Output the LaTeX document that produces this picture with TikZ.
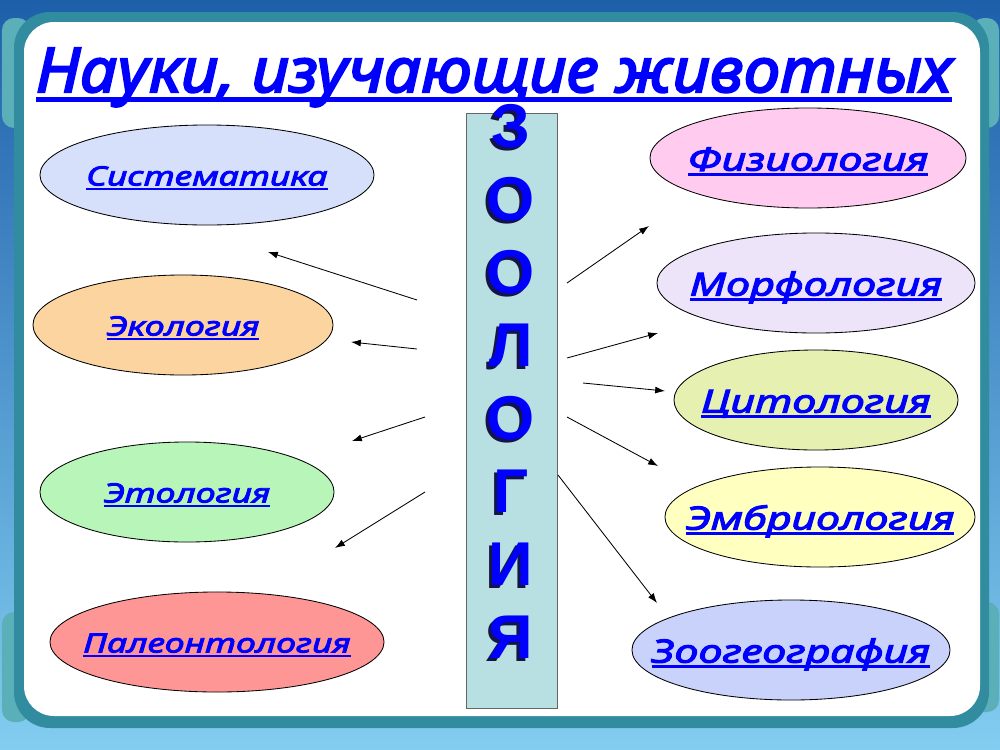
\documentclass[tikz,border=0pt]{standalone}
\usepackage{fontspec}
\setmainfont{Liberation Sans}
\newfontfamily\titlefont[FakeStretch=1.06,FakeBold=3.5]{Noto Sans}
\newfontfamily\lblfont[FakeStretch=1.35,FakeBold=3.5]{Noto Sans}
\usetikzlibrary{shapes.geometric,arrows.meta}

\definecolor{linkblue}{RGB}{0,0,255}
\definecolor{shadowink}{RGB}{20,20,70}
\definecolor{bgtop}{RGB}{30,95,170}
\definecolor{bgbot}{RGB}{130,205,240}
\definecolor{frameteal}{RGB}{50,140,160}
\definecolor{pillteal}{RGB}{90,175,185}
\definecolor{columnfill}{RGB}{184,224,226}
\definecolor{sistfill}{RGB}{214,224,250}
\definecolor{ekolfill}{RGB}{252,212,160}
\definecolor{etolfill}{RGB}{184,245,184}
\definecolor{paleofill}{RGB}{255,150,150}
\definecolor{fizfill}{RGB}{255,204,240}
\definecolor{morffill}{RGB}{238,228,250}
\definecolor{citofill}{RGB}{230,240,176}
\definecolor{embrfill}{RGB}{255,255,192}
\definecolor{zoogfill}{RGB}{200,210,250}

% underlined text; \lbl keeps it from widening the ellipse
\newcommand\ulined[1]{\setbox0\hbox{#1}\rlap{\rule[-0.17em]{\wd0}{0.085em}}\box0}
\newcommand\lbl[1]{\makebox[0pt]{\raisebox{-0.12em}[0.75em][0.2em]{\ulined{#1}}}}
% letter with its drop shadow
\newcommand\shadowed[1]{\makebox[0pt][l]{\hspace{-2.2pt}\raisebox{-2.2pt}{\color{shadowink}#1}}#1}

\begin{document}
\begin{tikzpicture}[x=0.025cm,y=-0.025cm]
\tikzset{
  sci/.style 2 args={ellipse,draw=black,line width=0.6pt,fill=#1,
    minimum width=#2,minimum height=2.5cm,inner sep=0pt,text=linkblue},
  leftsci/.style={font=\lblfont\fontsize{18.8}{22}\selectfont\itshape},
  rightsci/.style={font=\lblfont\fontsize{22.7}{26}\selectfont\itshape},
  pointer/.style={-{Latex[length=7pt,width=5pt]},line width=0.6pt},
  letter/.style={font=\fontsize{44}{50}\selectfont\bfseries,text=linkblue,inner sep=0pt}
}
% slide background
\fill[top color=bgtop,bottom color=bgbot] (0,0) rectangle (1000,750);
\fill[pillteal,rounded corners=0.3cm] (2,18) rectangle (30,128);
\fill[pillteal,rounded corners=0.3cm] (2,612) rectangle (30,722);
\fill[pillteal,rounded corners=0.3cm] (972,18) rectangle (999,128);
\fill[pillteal,rounded corners=0.3cm] (972,602) rectangle (999,712);
\fill[frameteal,rounded corners=0.9cm] (14,12) rectangle (989,728);
\fill[white,rounded corners=0.75cm] (24,22) rectangle (980,716);

% column
\node[draw=black!60,fill=columnfill,minimum width=2.275cm,minimum height=14.875cm,
  inner sep=0pt] (col) at (511.5,410.5) {};
\foreach \ch [count=\i] in {З,О,О,Л,О,Г,И,Я}
  \node[letter] (z\i) at (511,{128+73*(\i-1)}) {\shadowed{\ch}};

% title
\node[anchor=base,text=linkblue,inner sep=0pt,
  font=\titlefont\fontsize{43.8}{50}\selectfont\itshape] (title) at (494,92)
  {\ulined{Науки, изучающие животных}};

% left
\node[sci={sistfill}{8.35cm},leftsci] (sist) at (207,175) {\lbl{Систематика}};
\node[sci={ekolfill}{7.5cm},leftsci] (ekol) at (183,325) {\lbl{Экология}};
\node[sci={etolfill}{7.35cm},leftsci] (etol) at (187,492) {\lbl{Этология}};
\node[sci={paleofill}{8.35cm},leftsci] (paleo) at (217,642) {\lbl{Палеонтология}};
% right
\node[sci={fizfill}{7.9cm},rightsci] (fiz) at (808,158) {\lbl{Физиология}};
\node[sci={morffill}{7.95cm},rightsci] (morf) at (816,283) {\lbl{Морфология}};
\node[sci={citofill}{7.1cm},rightsci] (cito) at (816,400) {\lbl{Цитология}};
\node[sci={embrfill}{7.75cm},rightsci] (embr) at (820,517) {\lbl{Эмбриология}};
\node[sci={zoogfill}{7.95cm},rightsci] (zoog) at (791,650) {\lbl{Зоогеография}};

% arrows
\coordinate (fromsist) at (417,300);  \coordinate (tosist) at (268,252);
\coordinate (fromekol) at (417,349);  \coordinate (toekol) at (351,342);
\coordinate (frometol) at (425,417);  \coordinate (toetol) at (352,441);
\coordinate (frompaleo) at (425,492); \coordinate (topaleo) at (335,548);
\coordinate (fromfiz) at (567,283);   \coordinate (tofiz) at (649,226);
\coordinate (frommorf) at (567,358);  \coordinate (tomorf) at (658,333);
\coordinate (fromcito) at (583,383);  \coordinate (tocito) at (665,391);
\coordinate (fromembr) at (567,417);  \coordinate (toembr) at (658,466);
\coordinate (fromzoog) at (558,475);  \coordinate (tozoog) at (657,603);
\foreach \s in {sist,ekol,etol,paleo,fiz,morf,cito,embr,zoog}
  \draw[pointer] (from\s) -- (to\s);
\end{tikzpicture}
\end{document}
